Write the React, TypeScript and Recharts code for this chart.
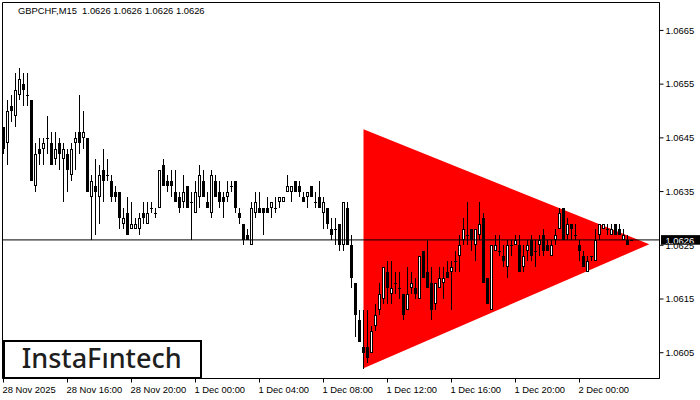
import React from 'react';
import { ComposedChart, Bar, Area, XAxis, YAxis, ReferenceLine, ReferenceArea } from 'recharts';

const symbol = 'GBPCHF';
const timeframe = 'M15';

const opens = [
  1.0647, 1.0644, 1.0651, 1.0649, 1.0653, 1.0655, 1.0653, 1.0652, 1.0636, 1.0643,
  1.0643, 1.0645, 1.0644, 1.0641, 1.0644, 1.0641, 1.0642, 1.0638, 1.0644, 1.0646,
  1.0645, 1.0645, 1.0634, 1.0636, 1.0634, 1.0639, 1.0638, 1.0637, 1.0635, 1.0635,
  1.0629, 1.0631, 1.0628, 1.0628, 1.0628, 1.0631, 1.0629, 1.0632, 1.0631, 1.0632,
  1.0640, 1.0637, 1.0637, 1.0635, 1.0634, 1.0633, 1.0636, 1.0633, 1.0631, 1.0634,
  1.0637, 1.0633, 1.0631, 1.0637, 1.0635, 1.0634, 1.0634, 1.0636, 1.0637, 1.0631,
  1.0629, 1.0627, 1.0625, 1.0631, 1.0632, 1.0632, 1.0632, 1.0632, 1.0632, 1.0633,
  1.0633, 1.0635, 1.0635, 1.0637, 1.0636, 1.0634, 1.0634, 1.0636, 1.0633, 1.0634,
  1.0631, 1.0632, 1.0628, 1.0628, 1.0629, 1.0625, 1.0632, 1.0625, 1.0618, 1.0611,
  1.0606, 1.0606, 1.0605, 1.0610, 1.0613, 1.0615, 1.0620, 1.0616, 1.0618, 1.0617,
  1.0616, 1.0613, 1.0617, 1.0617, 1.0615, 1.0624, 1.0620, 1.0618, 1.0614, 1.0617,
  1.0618, 1.0620, 1.0620, 1.0622, 1.0623, 1.0626, 1.0627, 1.0628, 1.0625, 1.0627,
  1.0630, 1.0619, 1.0613, 1.0624, 1.0624, 1.0623, 1.0621, 1.0625, 1.0625, 1.0625,
  1.0621, 1.0624, 1.0626, 1.0624, 1.0625, 1.0627, 1.0625, 1.0623, 1.0626, 1.0628,
  1.0632, 1.0627, 1.0629, 1.0627, 1.0625, 1.0623, 1.0620, 1.0623, 1.0622, 1.0627,
  1.0628, 1.0628, 1.0627, 1.0629, 1.0628, 1.0626, 1.0626, 1.0626,
];

const highs = [
  1.0647, 1.0652, 1.0653, 1.0657, 1.0658, 1.0657, 1.0657, 1.0652, 1.0644, 1.0645,
  1.0645, 1.0649, 1.0646, 1.0646, 1.0645, 1.0644, 1.0643, 1.0644, 1.0646, 1.0653,
  1.0650, 1.0645, 1.0638, 1.0641, 1.0640, 1.0643, 1.0641, 1.0638, 1.0636, 1.0635,
  1.0632, 1.0634, 1.0633, 1.0630, 1.0631, 1.0633, 1.0633, 1.0633, 1.0632, 1.0639,
  1.0641, 1.0638, 1.0639, 1.0639, 1.0635, 1.0638, 1.0636, 1.0635, 1.0637, 1.0640,
  1.0639, 1.0635, 1.0639, 1.0638, 1.0637, 1.0635, 1.0637, 1.0637, 1.0637, 1.0632,
  1.0629, 1.0628, 1.0633, 1.0635, 1.0635, 1.0632, 1.0634, 1.0633, 1.0634, 1.0634,
  1.0634, 1.0638, 1.0636, 1.0637, 1.0637, 1.0635, 1.0635, 1.0636, 1.0635, 1.0637,
  1.0634, 1.0632, 1.0630, 1.0630, 1.0629, 1.0633, 1.0633, 1.0627, 1.0618, 1.0613,
  1.0613, 1.0613, 1.0610, 1.0614, 1.0618, 1.0621, 1.0622, 1.0622, 1.0620, 1.0620,
  1.0616, 1.0621, 1.0620, 1.0619, 1.0623, 1.0624, 1.0626, 1.0621, 1.0618, 1.0621,
  1.0621, 1.0622, 1.0622, 1.0624, 1.0627, 1.0630, 1.0633, 1.0628, 1.0628, 1.0633,
  1.0631, 1.0619, 1.0625, 1.0627, 1.0627, 1.0625, 1.0626, 1.0626, 1.0627, 1.0627,
  1.0625, 1.0626, 1.0627, 1.0626, 1.0627, 1.0628, 1.0626, 1.0626, 1.0628, 1.0632,
  1.0632, 1.0630, 1.0629, 1.0629, 1.0626, 1.0624, 1.0623, 1.0623, 1.0628, 1.0629,
  1.0629, 1.0629, 1.0629, 1.0629, 1.0629, 1.0628, 1.0627, 1.0626,
];

const lows = [
  1.0642, 1.0640, 1.0648, 1.0647, 1.0652, 1.0651, 1.0651, 1.0637, 1.0635, 1.0640,
  1.0640, 1.0642, 1.0640, 1.0640, 1.0639, 1.0633, 1.0635, 1.0637, 1.0639, 1.0642,
  1.0643, 1.0635, 1.0626, 1.0627, 1.0629, 1.0633, 1.0637, 1.0633, 1.0633, 1.0628,
  1.0628, 1.0627, 1.0628, 1.0628, 1.0627, 1.0629, 1.0629, 1.0631, 1.0630, 1.0632,
  1.0636, 1.0635, 1.0634, 1.0633, 1.0631, 1.0632, 1.0632, 1.0626, 1.0631, 1.0632,
  1.0634, 1.0632, 1.0630, 1.0634, 1.0632, 1.0630, 1.0633, 1.0635, 1.0631, 1.0629,
  1.0625, 1.0626, 1.0625, 1.0630, 1.0631, 1.0627, 1.0631, 1.0630, 1.0631, 1.0632,
  1.0633, 1.0635, 1.0633, 1.0635, 1.0634, 1.0633, 1.0632, 1.0634, 1.0632, 1.0632,
  1.0628, 1.0628, 1.0626, 1.0625, 1.0624, 1.0624, 1.0625, 1.0617, 1.0608, 1.0607,
  1.0602, 1.0603, 1.0605, 1.0609, 1.0612, 1.0614, 1.0614, 1.0614, 1.0616, 1.0615,
  1.0611, 1.0613, 1.0616, 1.0615, 1.0615, 1.0619, 1.0617, 1.0611, 1.0613, 1.0617,
  1.0615, 1.0619, 1.0613, 1.0620, 1.0620, 1.0625, 1.0625, 1.0624, 1.0622, 1.0626,
  1.0618, 1.0614, 1.0613, 1.0624, 1.0623, 1.0621, 1.0619, 1.0623, 1.0625, 1.0620,
  1.0620, 1.0622, 1.0622, 1.0621, 1.0623, 1.0623, 1.0624, 1.0623, 1.0625, 1.0628,
  1.0626, 1.0626, 1.0626, 1.0626, 1.0622, 1.0621, 1.0620, 1.0622, 1.0622, 1.0626,
  1.0628, 1.0627, 1.0627, 1.0627, 1.0627, 1.0626, 1.0625, 1.0626,
];

const closes = [
  1.0643, 1.0650, 1.0650, 1.0654, 1.0656, 1.0654, 1.0653, 1.0637, 1.0642, 1.0642,
  1.0644, 1.0645, 1.0640, 1.0643, 1.0642, 1.0643, 1.0639, 1.0643, 1.0645, 1.0644,
  1.0646, 1.0635, 1.0637, 1.0635, 1.0638, 1.0637, 1.0638, 1.0634, 1.0634, 1.0630,
  1.0630, 1.0627, 1.0629, 1.0629, 1.0630, 1.0630, 1.0631, 1.0632, 1.0631, 1.0639,
  1.0636, 1.0636, 1.0636, 1.0633, 1.0632, 1.0635, 1.0632, 1.0633, 1.0635, 1.0638,
  1.0634, 1.0632, 1.0638, 1.0634, 1.0633, 1.0633, 1.0635, 1.0636, 1.0632, 1.0630,
  1.0626, 1.0626, 1.0632, 1.0633, 1.0631, 1.0631, 1.0631, 1.0633, 1.0632, 1.0634,
  1.0634, 1.0636, 1.0636, 1.0635, 1.0635, 1.0633, 1.0635, 1.0634, 1.0633, 1.0632,
  1.0633, 1.0629, 1.0627, 1.0628, 1.0625, 1.0633, 1.0625, 1.0619, 1.0612, 1.0607,
  1.0605, 1.0604, 1.0609, 1.0612, 1.0616, 1.0621, 1.0617, 1.0617, 1.0618, 1.0617,
  1.0612, 1.0616, 1.0618, 1.0616, 1.0623, 1.0619, 1.0617, 1.0613, 1.0618, 1.0619,
  1.0619, 1.0619, 1.0621, 1.0622, 1.0625, 1.0628, 1.0627, 1.0626, 1.0628, 1.0629,
  1.0618, 1.0614, 1.0625, 1.0625, 1.0624, 1.0622, 1.0625, 1.0625, 1.0626, 1.0620,
  1.0623, 1.0625, 1.0623, 1.0624, 1.0626, 1.0624, 1.0624, 1.0625, 1.0627, 1.0631,
  1.0626, 1.0629, 1.0628, 1.0627, 1.0624, 1.0621, 1.0622, 1.0623, 1.0626, 1.0629,
  1.0629, 1.0628, 1.0628, 1.0627, 1.0627, 1.0627, 1.0625, 1.0626,
];

const tickIndex = [0, 16, 32, 48, 64, 80, 96, 112, 128, 144];
const tickLabels = [
  '28 Nov 2025', '28 Nov 16:00', '28 Nov 20:00', '1 Dec 00:00', '1 Dec 04:00',
  '1 Dec 08:00', '1 Dec 12:00', '1 Dec 16:00', '1 Dec 20:00', '2 Dec 00:00',
];
const priceTicks = [1.0605, 1.0615, 1.0625, 1.0635, 1.0645, 1.0655, 1.0665];
const priceDomain: [number, number] = [1.06002, 1.06702];
const indexDomain: [number, number] = [-0.25, 164];

// symmetrical triangle: left edge (index 90) and apex
const triangleIndex = [90, 161.45];
const triangleLow = [1.06021, 1.06252];
const triangleHigh = [1.06466, 1.06252];

const rows = opens.map((o, i) => ({ i, open: o, high: highs[i], low: lows[i], close: closes[i] }));
const triangle = triangleIndex.map((i, k) => ({ i, band: [triangleLow[k], triangleHigh[k]] }));

const last = rows[rows.length - 1];
const lastPrice = last.close;
const fmt = (v: number) => v.toFixed(4);
const FONT = '"Liberation Sans", Arial, sans-serif';
const FS = 9.4;

const Candle = (props: any) => {
  const { x, y, width, height, payload } = props;
  if (x == null || y == null || !payload) return null;
  const { open, close, high, low } = payload;
  const cx = Math.floor(x + width / 2) + 0.5;
  const span = high - low;
  const h = height || 0;
  const py = (p: number) => (span > 0 ? y + ((high - p) / span) * h : y);
  const yH = Math.round(py(high));
  const yL = Math.round(py(low));
  const top = Math.round(py(Math.max(open, close)));
  const bot = Math.round(py(Math.min(open, close)));
  let body;
  if (close < open) {
    body = <rect x={cx - 1.5} y={top} width={3} height={Math.max(1, bot - top)} fill="#000" />;
  } else if (bot - top <= 1) {
    body = <rect x={cx - 1.5} y={top} width={3} height={1} fill="#000" />;
  } else {
    body = (
      <rect x={cx - 1} y={top + 0.5} width={2} height={bot - top - 1} fill="#fff" stroke="#000" strokeWidth={1} />
    );
  }
  return (
    <g shapeRendering="crispEdges">
      <line x1={cx} x2={cx} y1={yH} y2={Math.max(yL, yH + 1)} stroke="#000" strokeWidth={1} />
      {body}
    </g>
  );
};

const TimeTick = (props: any) => {
  const { x, y, payload } = props;
  const k = tickIndex.indexOf(payload.value);
  const label = k >= 0 ? tickLabels[k] : '';
  return (
    <text x={x - 1} y={y + 8} textAnchor="start" fontSize={FS} fontFamily={FONT} fill="#000">
      {label}
    </text>
  );
};

const PriceTag = (props: any) => {
  const vb = props.viewBox || {};
  const xr = (vb.x ?? 0) + (vb.width ?? 0);
  const yc = vb.y ?? 0;
  return (
    <g>
      <rect x={xr + 1.5} y={yc - 4.8} width={40} height={9.6} fill="#000" />
      <text x={xr + 6} y={yc + 3.6} fill="#fff" fontSize={FS} fontFamily={FONT}>
        {fmt(lastPrice)}
      </text>
    </g>
  );
};

export default function App() {
  const title = `${symbol},${timeframe}  ${fmt(last.open)} ${fmt(last.high)} ${fmt(last.low)} ${fmt(last.close)}`;
  return (
    <div style={{ position: 'absolute', left: 0, top: 0, width: 700, height: 400, background: '#fff' }}>
      <ComposedChart
        width={700}
        height={400}
        data={rows}
        margin={{ top: 2.5, left: 2.5, right: 0.5, bottom: 0.5 }}
      >
        <XAxis
          dataKey="i"
          type="number"
          domain={indexDomain}
          ticks={tickIndex}
          interval={0}
          allowDataOverflow
          height={21}
          tickSize={4}
          tickMargin={2}
          stroke="#000"
          tickLine={{ stroke: '#000' }}
          tick={<TimeTick />}
        />
        <YAxis
          orientation="right"
          type="number"
          domain={priceDomain}
          ticks={priceTicks}
          interval={0}
          allowDataOverflow
          width={40}
          tickSize={4}
          tickMargin={2}
          stroke="#000"
          tickLine={{ stroke: '#000' }}
          tick={{ fontSize: FS, fontFamily: FONT, fill: '#000' }}
          tickFormatter={(v: number) => fmt(v)}
        />
        <ReferenceArea
          x1={indexDomain[0]}
          x2={indexDomain[1]}
          y1={priceDomain[0]}
          y2={priceDomain[1]}
          fill="none"
          fillOpacity={0}
          stroke="#000"
          strokeWidth={1}
        />
        <Area
          data={triangle}
          dataKey="band"
          type="linear"
          fill="#ff0000"
          fillOpacity={1}
          stroke="none"
          isAnimationActive={false}
          dot={false}
          activeDot={false}
        />
        <ReferenceLine
          y={lastPrice}
          stroke="#000"
          strokeWidth={1}
          label={(p: any) => <PriceTag {...p} />}
        />
        <Bar
          dataKey={(d: any) => [d.low, d.high]}
          barSize={2}
          shape={<Candle />}
          isAnimationActive={false}
        />
      </ComposedChart>
      <svg
        width={700}
        height={400}
        style={{ position: 'absolute', left: 0, top: 0, pointerEvents: 'none' }}
      >
        <text x={18} y={14} fontSize={FS} fontFamily={FONT} fill="#000" style={{ whiteSpace: 'pre' }}>
          {title}
        </text>
        <rect x={4} y={341} width={197} height={37} fill="#fff" stroke="#000" strokeWidth={2} />
        <text
          x={21.7}
          y={368.3}
          fontSize={27}
          fontFamily='"Noto Sans", "Open Sans", sans-serif'
          fontWeight={500}
          fill="#1e1e1e"
          textLength={160}
          lengthAdjust="spacingAndGlyphs"
        >
          InstaFıntech
        </text>
      </svg>
    </div>
  );
}
